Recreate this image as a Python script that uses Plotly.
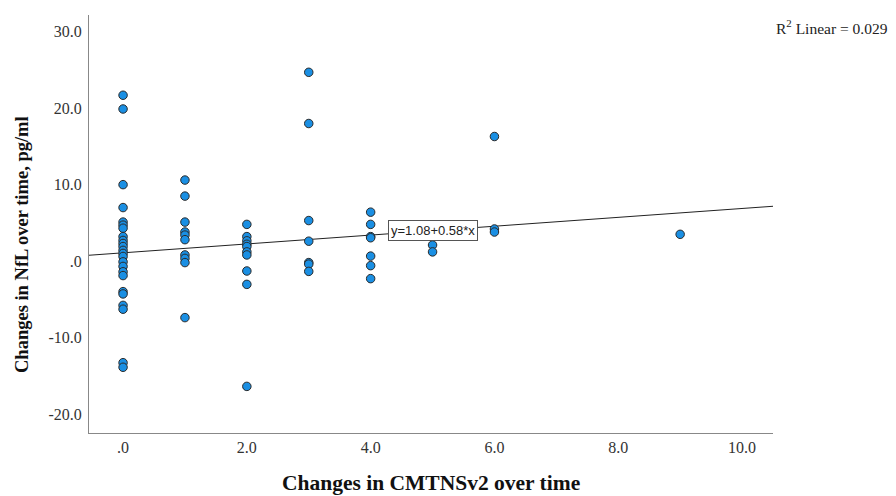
import plotly.graph_objects as go

# CMTNSv2 change (x) and NfL change (y)
x0 = [0]*24
y0 = [21.7, 19.9, 10.0, 7.0, 5.1, 4.7, 4.3, 3.2, 2.7, 2.3, 1.9, 1.4, 1.0, 0.6,
      -0.1, -0.7, -1.4, -1.9, -4.0, -4.3, -5.8, -6.3, -13.3, -13.9]
x1 = [1]*10
y1 = [10.6, 8.5, 5.1, 3.8, 3.4, 2.8, 0.8, 0.35, -0.2, -7.4]
x2 = [2]*10
y2 = [4.8, 3.2, 2.65, 2.2, 1.9, 1.2, 0.8, -1.3, -3.05, -16.4]
x3 = [3]*7
y3 = [24.7, 18.0, 5.3, 2.6, -0.2, -0.4, -1.35]
x4 = [4]*7
y4 = [6.4, 4.8, 3.2, 3.05, 0.65, -0.6, -2.3]
x5 = [5]*2
y5 = [2.1, 1.2]
x6 = [6]*3
y6 = [16.3, 4.2, 3.8]
x9 = [9]
y9 = [3.5]

xs = x0 + x1 + x2 + x3 + x4 + x5 + x6 + x9
ys = y0 + y1 + y2 + y3 + y4 + y5 + y6 + y9

intercept = 1.08
slope = 0.58
r2_text = "R<sup>2</sup> Linear = 0.029"
eq_text = "y=1.08+0.58*x"
x_title = "<b>Changes in CMTNSv2 over time</b>"
y_title = "<b>Changes in NfL over time, pg/ml</b>"

x_range = [-0.55, 10.5]
y_range = [-22.5, 32.2]
x_ticks = [0, 2, 4, 6, 8, 10]
x_ticklabels = [".0", "2.0", "4.0", "6.0", "8.0", "10.0"]
y_ticks = [-20, -10, 0, 10, 20, 30]
y_ticklabels = ["-20.0", "-10.0", ".0", "10.0", "20.0", "30.0"]

line_x = x_range
line_y = [intercept + slope * v for v in line_x]

serif = "Liberation Serif, Times New Roman, serif"
PAGE_OFF = 8              # default body margin of the html page
PW, PH = 896, 496         # window size
# plot area in window pixels
PL, PR, PT, PB = 89, 773, 15, 433
W, H = PW - PAGE_OFF, PH - PAGE_OFF
L, T = PL - PAGE_OFF, PT - PAGE_OFF
R, B = PW - PR, PH - PB

fig = go.Figure()
fig.add_trace(go.Scatter(
    x=line_x, y=line_y, mode="lines",
    line=dict(color="#222222", width=1), hoverinfo="skip", showlegend=False,
))
fig.add_trace(go.Scatter(
    x=xs, y=ys, mode="markers",
    marker=dict(size=8.5, color="#1a8fe3", line=dict(color="#2a2a2a", width=1)),
    showlegend=False,
))

fig.add_annotation(
    x=5, y=intercept + slope * 5, text=eq_text, showarrow=False,
    font=dict(family="Liberation Sans, Arial, sans-serif", size=13, color="#222222"),
    bgcolor="white", bordercolor="#555555", borderwidth=1, borderpad=2,
)
fig.add_annotation(
    x=1.0, y=1.0, xref="paper", yref="paper", xanchor="right", yanchor="middle",
    xshift=(PW - 6) - PR, yshift=PT - 27,
    text=r2_text, showarrow=False,
    font=dict(family=serif, size=15.5, color="#222222"),
)
# axis titles
fig.add_annotation(
    x=0.5, y=0, xref="paper", yref="paper", xanchor="center", yanchor="middle",
    xshift=431 - (PL + PR) / 2, yshift=-(483 - PB),
    text=x_title, showarrow=False,
    font=dict(family=serif, size=21.5, color="#111111"),
)
fig.add_annotation(
    x=0, y=0, xref="paper", yref="paper", xanchor="center", yanchor="middle",
    xshift=-(PL - 22), yshift=PB - 245, textangle=-90,
    text=y_title, showarrow=False,
    font=dict(family=serif, size=18.5, color="#111111"),
)

fig.update_layout(
    width=W, height=H,
    margin=dict(l=L, r=R, t=T, b=B, autoexpand=False),
    plot_bgcolor="white", paper_bgcolor="white",
    font=dict(family=serif, size=16, color="#333333"),
)
fig.update_xaxes(
    range=x_range, tickvals=x_ticks, ticktext=x_ticklabels, automargin=False,
    showgrid=False, zeroline=False, showline=True, linecolor="#888888", linewidth=1,
    ticks="", ticklabelstandoff=0,
    tickfont=dict(family=serif, size=16, color="#333333"),
)
fig.update_yaxes(
    range=y_range, tickvals=y_ticks, ticktext=y_ticklabels, automargin=False,
    showgrid=False, zeroline=False, showline=True, linecolor="#888888", linewidth=1,
    ticks="", ticklabelstandoff=3,
    tickfont=dict(family=serif, size=16, color="#333333"),
)

fig.write_html("out.html")
